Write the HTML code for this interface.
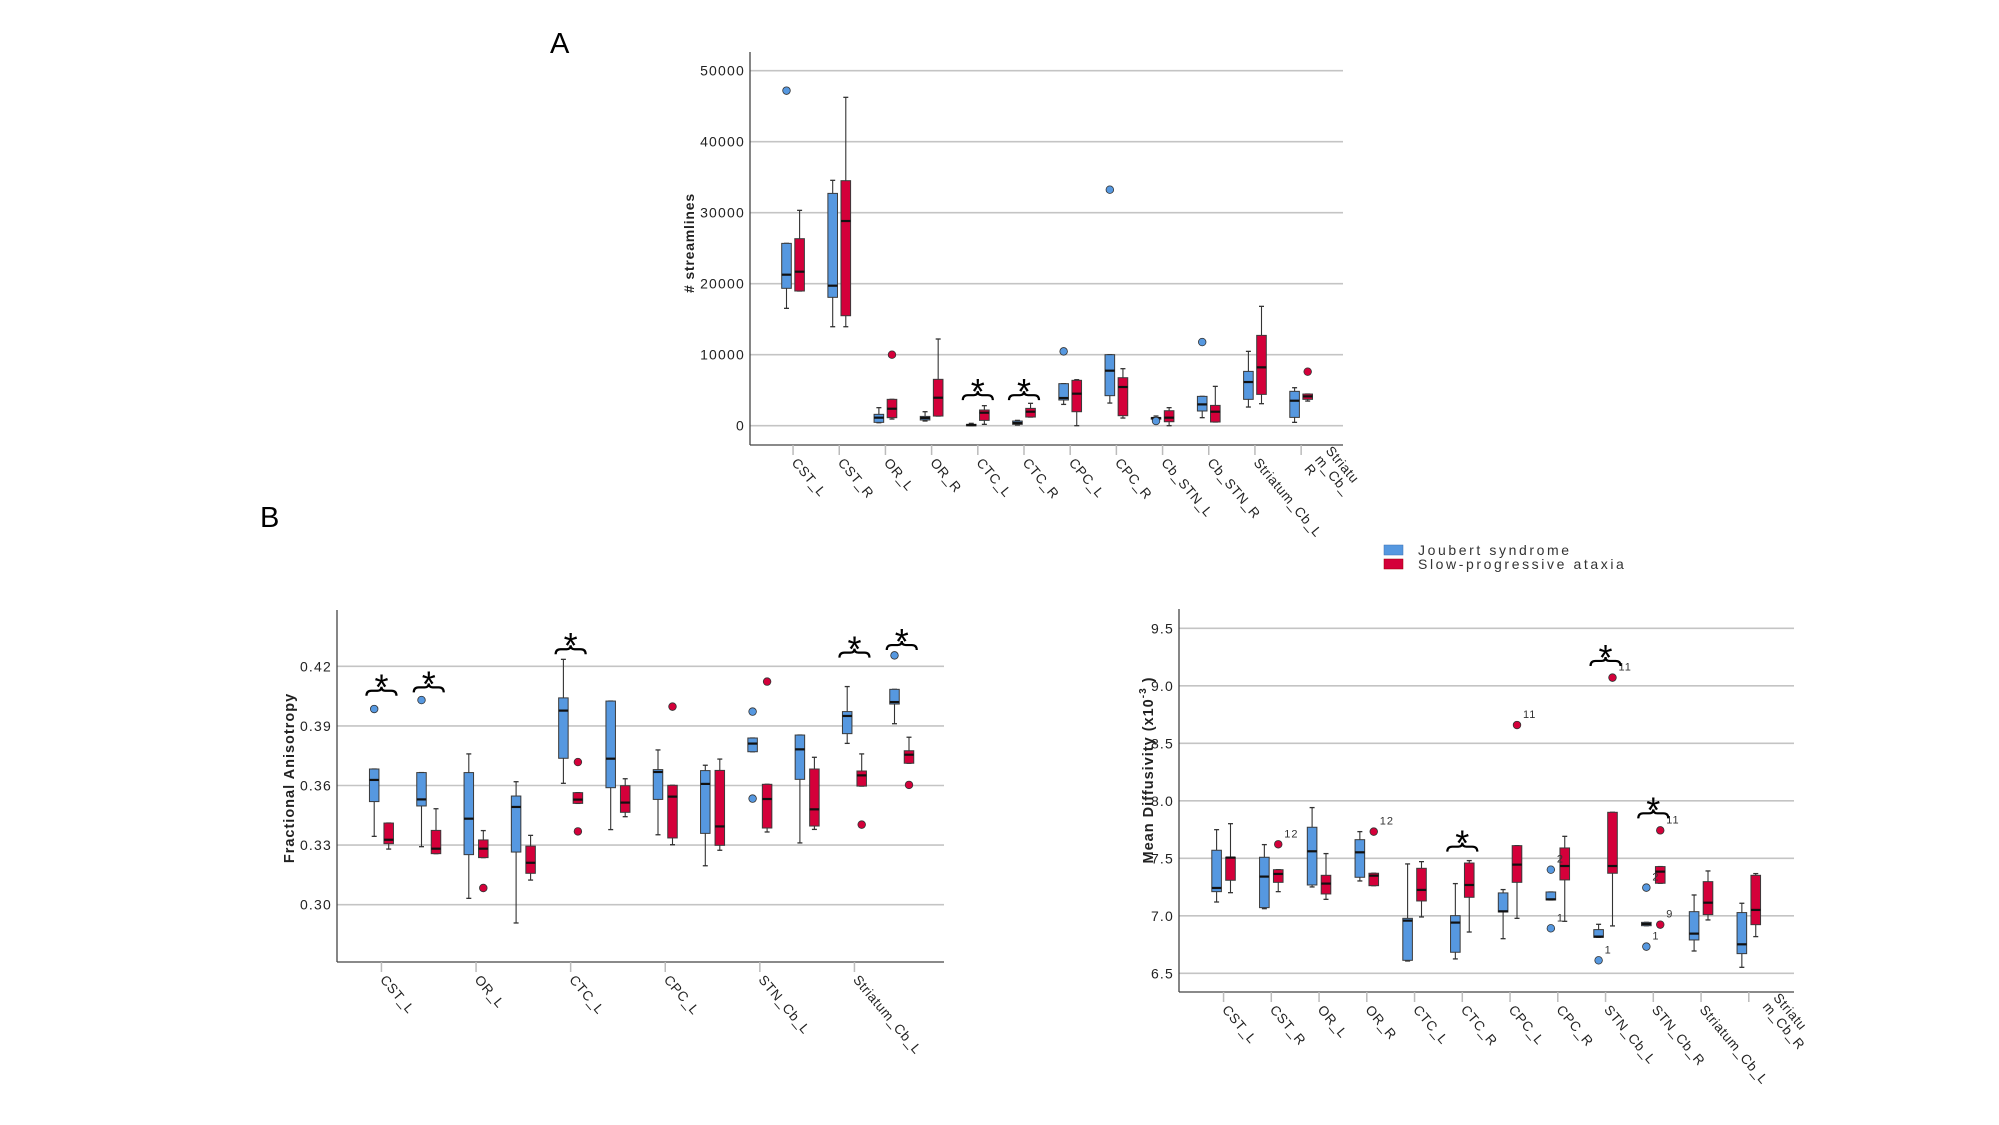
<!DOCTYPE html>
<html><head><meta charset="utf-8">
<style>
html,body{margin:0;padding:0;background:#fff;}
svg{display:block;font-family:"Liberation Sans",sans-serif;}
</style></head>
<body>
<svg id="fig" width="1999" height="1125" viewBox="0 0 1999 1125" xmlns="http://www.w3.org/2000/svg">
<text x="550" y="53" font-size="29" fill="#000">A</text>
<text x="260" y="527" font-size="29" fill="#000">B</text>
<g>
<rect x="1384" y="545" width="19" height="10" fill="#5698e0" stroke="#3a6fb0" stroke-width="0.5"/>
<rect x="1384" y="559" width="19" height="10" fill="#d4003a" stroke="#900" stroke-width="0.5"/>
<text x="1418" y="555" font-size="14" letter-spacing="2.6" fill="#333">Joubert syndrome</text>
<text x="1418" y="569" font-size="14" letter-spacing="2.6" fill="#333">Slow-progressive ataxia</text>
</g>
</svg>
<script>
// ===== Panel A: streamlines =====
const catsA = ["CST_L","CST_R","OR_L","OR_R","CTC_L","CTC_R","CPC_L","CPC_R","Cb_STN_L","Cb_STN_R","Striatum_Cb_L","Striatu|m_Cb_|R"];
const ticksA = [0,10000,20000,30000,40000,50000];
// [lowWhisker, q1, median, q3, highWhisker]
const blueA = [[16530,19350,21270,25680,25680],[13940,18080,19720,32720,34560],[420,470,1130,1600,2540],[660,800,1080,1310,1970],[0,0,90,190,330],[90,190,380,660,750],[3000,3620,3900,5920,5920],[3190,4230,7750,10000,10000],[940,940,1080,1130,1360],[1130,2070,3000,4130,4130],[2630,3710,6150,7650,10470],[470,1170,3520,4840,5350]];
const redA = [[18970,18970,21690,26340,30330],[13940,15490,28830,34510,46250],[940,1130,2390,3710,3710],[1360,1360,3940,6530,12210],[190,750,1830,2210,2820],[1220,1220,1970,2440,3150],[0,1970,4510,6390,6480],[1080,1410,5450,6760,8030],[0,560,1130,2110,2540],[520,520,1970,2860,5540],[3100,4410,8220,12720,16810],[3470,3710,4130,4460,4460]];
const blueOutA = [[0,47190],[6,10470],[7,33240],[8,660],[9,11780]];
const redOutA = [[2,10000],[11,7610]];
const sigA = [4,5];
const sigLevelA = [4300,4300];

// ===== Panel B left: FA =====
const catsFA = ["CST_L","","OR_L","","CTC_L","","CPC_L","","STN_Cb_L","","Striatum_Cb_L",""];
const ticksFA = [0.30,0.33,0.36,0.39,0.42];
const blueFA = [[0.3344,0.3519,0.3628,0.3683,0.3683],[0.3292,0.3497,0.3530,0.3665,0.3665],[0.3032,0.3252,0.3433,0.3665,0.3759],[0.2908,0.3265,0.3492,0.3547,0.3619],[0.3611,0.3737,0.3977,0.4041,0.4235],[0.3378,0.3589,0.3735,0.4025,0.4025],[0.3352,0.3530,0.3668,0.3680,0.3779],[0.3196,0.3359,0.3608,0.3675,0.3702],[0.3770,0.3770,0.3811,0.3839,0.3839],[0.3311,0.3631,0.3782,0.3854,0.3854],[0.3812,0.3861,0.3950,0.3972,0.4098],[0.3911,0.4010,0.4020,0.4084,0.4084]];
const redFA = [[0.3280,0.3307,0.3327,0.3411,0.3411],[0.3257,0.3257,0.3282,0.3374,0.3483],[0.3237,0.3237,0.3282,0.3326,0.3373],[0.3124,0.3158,0.3211,0.3295,0.3349],[0.3510,0.3510,0.3529,0.3564,0.3564],[0.3443,0.3465,0.3514,0.3599,0.3634],[0.3302,0.3336,0.3544,0.3601,0.3601],[0.3274,0.3299,0.3394,0.3676,0.3733],[0.3366,0.3386,0.3532,0.3606,0.3606],[0.3379,0.3396,0.3480,0.3683,0.3742],[0.3597,0.3597,0.3651,0.3673,0.3759],[0.3712,0.3712,0.3755,0.3775,0.3843]];
const blueOutFA = [[0,0.3985],[1,0.4030],[8,0.3972],[8,0.3534],[11,0.4255]];
const redOutFA = [[2,0.3084],[4,0.3718],[4,0.3369],[6,0.3997],[8,0.4123],[10,0.3403],[11,0.3603]];
const sigFA = [0,1,4,10,11];
const sigLevelFA = [0.4077,0.4094,0.4286,0.4269,0.4307];

// ===== Panel B right: MD =====
const catsMD = ["CST_L","CST_R","OR_L","OR_R","CTC_L","CTC_R","CPC_L","CPC_R","STN_Cb_L","STN_Cb_R","Striatum_Cb_L","Striatu|m_Cb_R"];
const ticksMD = [6.5,7.0,7.5,8.0,8.5,9.0,9.5];
const blueMD = [[7.120,7.210,7.242,7.570,7.749],[7.062,7.071,7.341,7.509,7.619],[7.251,7.268,7.561,7.770,7.941],[7.303,7.335,7.552,7.662,7.732],[6.607,6.613,6.958,6.978,7.451],[6.625,6.683,6.941,7.001,7.280],[6.801,7.033,7.039,7.199,7.228],[7.138,7.138,7.143,7.207,7.207],[6.813,6.813,6.819,6.880,6.926],[6.914,6.914,6.929,6.943,6.943],[6.694,6.790,6.845,7.036,7.181],[6.552,6.671,6.752,7.028,7.109]];
const redMD = [[7.201,7.309,7.506,7.509,7.801],[7.210,7.291,7.364,7.401,7.401],[7.143,7.190,7.280,7.352,7.541],[7.262,7.262,7.349,7.370,7.370],[6.990,7.129,7.225,7.413,7.471],[6.859,7.161,7.268,7.459,7.480],[6.978,7.291,7.445,7.610,7.610],[6.952,7.312,7.433,7.590,7.691],[6.912,7.370,7.433,7.900,7.900],[7.283,7.283,7.384,7.428,7.428],[6.964,7.010,7.114,7.297,7.390],[6.819,6.923,7.051,7.352,7.367]];
const blueOutMD = [[7,7.401,"2"],[7,6.891,"1"],[8,6.613,"1"],[9,7.245,"2"],[9,6.732,"1"]];
const redOutMD = [[1,7.622,"12"],[3,7.732,"12"],[6,8.659,"11"],[8,9.071,"11"],[9,7.743,"11"],[9,6.923,"9"]];
const sigMD = [5,8,9];
const sigLevelMD = [7.601,9.216,7.891];

const NS = "http://www.w3.org/2000/svg";
const fig = document.getElementById("fig");
function mk(tag, attrs, parent){
  const e = document.createElementNS(NS, tag);
  for (const k in attrs) e.setAttribute(k, attrs[k]);
  (parent||fig).appendChild(e);
  return e;
}

function drawPanel(p){
  const g = mk("g", {});
  
  
  const yScale = v => p.yA + (v - p.vA) * (p.yB - p.yA) / (p.vB - p.vA);
  const xScale = i => p.x0 + i * p.dx;
  p.ticks.forEach(t => {
    const y = yScale(t);
    const gl = mk("line", {x1:p.left, x2:p.right, y1:y, y2:y, stroke:"#c4c4c4", "stroke-width":1.6}, g);
    
    
    const tl = mk("text", {x:p.left-5, y:y+5, "font-size":14, "text-anchor":"end", fill:"#222", "letter-spacing":"1.2"}, g);
    tl.textContent = p.fmt(t);
    
    
  });
  const ya = mk("line", {x1:p.left, x2:p.left, y1:p.top, y2:p.bottom, stroke:"#444", "stroke-width":1.3}, g);
  
  
  const xa = mk("line", {x1:p.left, x2:p.right, y1:p.bottom, y2:p.bottom, stroke:"#444", "stroke-width":1.3}, g);
  
  
  p.cats.forEach((c, i) => {
    if (p.tickEvery && i % p.tickEvery !== 0) return;
    const x = xScale(i) + (p.offB + p.offR)/2;
    const tk = mk("line", {x1:x, x2:x, y1:p.bottom, y2:p.bottom+10, stroke:"#bbb", "stroke-width":1.5}, g);
    
    
    const lines = c.split("|");
    const tx = mk("text", {transform:`translate(${x-2},${p.bottom+18}) rotate(50)`, "font-size":13.5, fill:"#222", "letter-spacing":"0.6"}, g);
    
    
    if (lines.length === 1) tx.textContent = c;
    else {
      tx.setAttribute("transform", `translate(${x+24},${p.bottom+6}) rotate(50)`);
      lines.forEach((ln, k) => {
        const ts = mk("tspan", {x:0, dy: k===0 ? 0 : 14}, tx);
        ts.textContent = ln;
      });
    }
  });
  function box(stats, i, off, fill, nameBase){
    const cx = xScale(i) + off, w = p.bw;
    const [lo, q1, md, q3, hi] = stats;
    const bg = mk("g", {}, g);
    
    
    mk("line", {x1:cx, x2:cx, y1:yScale(hi), y2:yScale(q3), stroke:"#333", "stroke-width":1.1}, bg);
    mk("line", {x1:cx, x2:cx, y1:yScale(q1), y2:yScale(lo), stroke:"#333", "stroke-width":1.1}, bg);
    mk("line", {x1:cx-2.5, x2:cx+2.5, y1:yScale(hi), y2:yScale(hi), stroke:"#333", "stroke-width":1.3}, bg);
    mk("line", {x1:cx-2.5, x2:cx+2.5, y1:yScale(lo), y2:yScale(lo), stroke:"#333", "stroke-width":1.3}, bg);
    const yt = yScale(q3), yb = yScale(q1);
    mk("rect", {x:cx-w/2, y:yt, width:w, height:Math.max(1.5, yb-yt), fill:fill, stroke:"#3a3a3a", "stroke-width":1}, bg);
    mk("line", {x1:cx-w/2, x2:cx+w/2, y1:yScale(md), y2:yScale(md), stroke:"#111", "stroke-width":2.2}, bg);
  }
  p.blue.forEach((s, i) => box(s, i, p.offB, "#5698e0", "box-joubert"));
  p.red.forEach((s, i) => box(s, i, p.offR, "#d4003a", "box-ataxia"));
  function outl(list, off, fill, nm){
    list.forEach(o => {
      const cx = xScale(o[0]) + off, cy = yScale(o[1]);
      const c = mk("circle", {cx:cx, cy:cy, r:3.8, fill:fill, stroke:"#333", "stroke-width":0.8}, g);
      
      
      if (o[2]) {
        const t = mk("text", {x:cx+6, y:cy-7, "font-size":11, fill:"#333", "letter-spacing":"1"}, g);
        t.textContent = o[2];
        
        
      }
    });
  }
  outl(p.blueOut, p.offB, "#5698e0", "outlier-joubert");
  outl(p.redOut, p.offR, "#d4003a", "outlier-ataxia");
  p.sig.forEach((i, k) => {
    const cx = xScale(i) + (p.offB + p.offR)/2, y = yScale(p.sigLevel[k]);
    const x1 = cx - 15, x2 = cx + 15;
    const br = mk("path", {d:`M${x1},${y+5} Q${x1},${y} ${x1+5},${y} L${cx-4},${y} Q${cx},${y} ${cx},${y-4} Q${cx},${y} ${cx+4},${y} L${x2-5},${y} Q${x2},${y} ${x2},${y+5}`, fill:"none", stroke:"#000", "stroke-width":2.2}, g);
    
    
    const st = mk("text", {x:cx, y:y+9, "font-size":36, "text-anchor":"middle", fill:"#000"}, g);
    st.textContent = "*";
    
    
  });
}

drawPanel({name:"streamlines-chart", cats:catsA, ticks:ticksA, blue:blueA, red:redA, blueOut:blueOutA, redOut:redOutA, sig:sigA, sigLevel:sigLevelA,
  vA:0, yA:425.7, vB:50000, yB:70.7, left:750, right:1343, top:52, bottom:445, x0:792.2, dx:46.19, offB:-5.7, offR:7.4, bw:9.6, fmt:t=>String(t)});
drawPanel({name:"fa-chart", cats:catsFA, ticks:ticksFA, blue:blueFA, red:redFA, blueOut:blueOutFA, redOut:redOutFA, sig:sigFA, sigLevel:sigLevelFA, tickEvery:2,
  vA:0.42, yA:666.3, vB:0.30, yB:904.7, left:337, right:944, top:610, bottom:962, x0:381.1, dx:47.3, offB:-6.9, offR:7.6, bw:9.5, fmt:t=>t.toFixed(2)});
drawPanel({name:"md-chart", cats:catsMD, ticks:ticksMD, blue:blueMD, red:redMD, blueOut:blueOutMD, redOut:redOutMD, sig:sigMD, sigLevel:sigLevelMD,
  vA:9.5, yA:628.3, vB:6.5, yB:973.3, left:1179, right:1794, top:609, bottom:992, x0:1224, dx:47.75, offB:-7.4, offR:6.5, bw:9.6, fmt:t=>t.toFixed(1)});

const t1 = mk("text", {transform:"translate(694,243) rotate(-90)", "font-size":14, "font-weight":"bold", "text-anchor":"middle", fill:"#222", "letter-spacing":"0.8"});
t1.textContent = "# streamlines";


const t2 = mk("text", {transform:"translate(294,778) rotate(-90)", "font-size":14.5, "font-weight":"bold", "text-anchor":"middle", fill:"#222", "letter-spacing":"1"});
t2.textContent = "Fractional Anisotropy";


const t3 = mk("text", {transform:"translate(1153,770) rotate(-90)", "font-size":14.5, "font-weight":"bold", "text-anchor":"middle", fill:"#222", "letter-spacing":"1"});


const ts1 = mk("tspan", {}, t3); ts1.textContent = "Mean Diffusivity (x10";
const ts2 = mk("tspan", {dy:-7, "font-size":10}, t3); ts2.textContent = "-3";
const ts3 = mk("tspan", {dy:7}, t3); ts3.textContent = " )";
</script>
</body></html>
